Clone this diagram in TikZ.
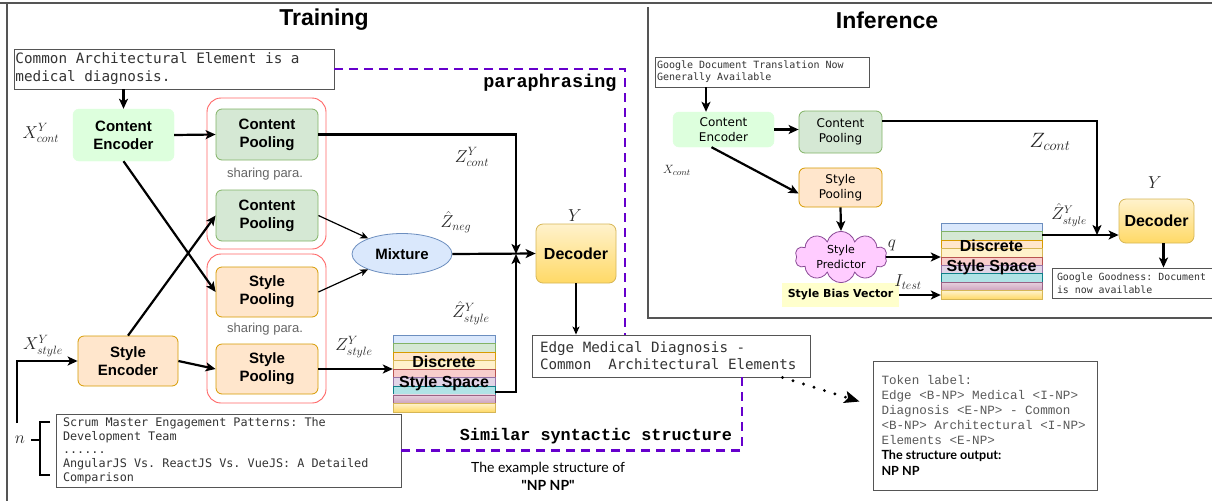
\documentclass[tikz,border=0pt]{standalone}
\usepackage{fontspec}
\setmainfont{Liberation Sans}
\newfontfamily\dvsans{DejaVu Sans}
\newfontfamily\dvmono{DejaVu Sans Mono}
\newfontfamily\cour{Liberation Mono}
\newfontfamily\hand{Lato}
\usetikzlibrary{arrows.meta,shapes.geometric,shapes.symbols,calc}

\definecolor{encgreen}{HTML}{DDFFDD}
\definecolor{poolgreen}{HTML}{D5E8D4}
\definecolor{poolgreenline}{HTML}{82B366}
\definecolor{peach}{HTML}{FFE6CC}
\definecolor{peachline}{HTML}{D79B00}
\definecolor{mixblue}{HTML}{DAE8FC}
\definecolor{mixline}{HTML}{6C8EBF}
\definecolor{groupred}{HTML}{FF6666}
\definecolor{decline}{HTML}{D6B656}
\definecolor{dectop}{HTML}{FFF2CC}
\definecolor{decbot}{HTML}{FFD966}
\definecolor{purpdash}{HTML}{6600CC}
\definecolor{cloudfill}{HTML}{FFCCFF}
\definecolor{cloudline}{HTML}{8A4A96}
\definecolor{biasfill}{HTML}{FFFFCC}
\definecolor{stripepink}{HTML}{F8CECC}
\definecolor{stripepinkline}{HTML}{B85450}
\definecolor{stripelav}{HTML}{E1D5E7}
\definecolor{stripelavline}{HTML}{9673A6}
\definecolor{stripeteal}{HTML}{B0E3E6}
\definecolor{stripetealline}{HTML}{0E8088}
\definecolor{stripemauvetop}{HTML}{E6D0DE}
\definecolor{stripemauve}{HTML}{CDA2BE}
\definecolor{stripemauveline}{HTML}{996185}
\definecolor{textgray}{HTML}{333333}
\definecolor{framegray}{HTML}{555555}

% keep full-width spaces and whole words in monospaced text blocks
\newcommand\fixsp{\spaceskip=\fontdimen2\font\xspaceskip=\fontdimen2\font\hyphenpenalty=10000\exhyphenpenalty=10000\relax}
% back to the font's own spaces (proportional lines inside a mono block)
\newcommand\propsp{\spaceskip=0pt\xspaceskip=0pt\relax}

% stack of coloured stripes: left, top, width, stripe height
\newcommand\stylestack[4]{%
  \foreach \fc/\dc [count=\k from 0] in {mixblue/mixline,poolgreen/poolgreenline,peach/peachline,dectop/decline,stripepink/stripepinkline,stripelav/stripelavline,stripeteal/stripetealline}{
    \draw[fill=\fc,draw=\dc,line width=0.6pt] (#1,{#2+\k*#4}) rectangle ++(#3,#4);}
  \draw[top color=stripemauvetop,bottom color=stripemauve,draw=stripemauveline,line width=0.6pt] (#1,{#2+7*#4}) rectangle ++(#3,#4);
  \draw[top color=dectop,bottom color=decbot,draw=decline,line width=0.6pt] (#1,{#2+8*#4}) rectangle ++(#3,#4);
}

\tikzset{
  frame/.style={draw=framegray,line width=1.1pt},
  arr/.style={line width=2.2pt,-{Stealth[length=10pt,width=9pt,inset=2.5pt]}},
  thinarr/.style={line width=1.2pt,-{Stealth[length=8pt,width=7pt,inset=2pt]}},
  box/.style={rounded corners=6pt,inner sep=0pt,align=center,font=\bfseries\fontsize{15}{18}\selectfont},
  encC/.style={box,fill=encgreen,draw=encgreen},
  poolC/.style={box,fill=poolgreen,draw=poolgreenline,line width=0.8pt},
  poolS/.style={box,fill=peach,draw=peachline,line width=0.8pt},
  group/.style={draw=groupred,rounded corners=14pt,line width=0.9pt,inner sep=0pt},
  share/.style={text=black!60,font=\fontsize{13}{15}\selectfont},
  decbox/.style={box,rounded corners=7pt,top color=dectop,bottom color=decbot,draw=decline,line width=0.8pt,font=\bfseries\fontsize{16}{19}\selectfont},
  dsslabel/.style={inner sep=0pt,align=center,font=\bfseries\fontsize{16}{20}\selectfont},
  txtbox/.style={draw=framegray,line width=0.9pt,align=left,anchor=center,text=textgray},
  mlab/.style={text=black!85,font=\fontsize{17}{20}\selectfont,inner sep=0pt},
  ibox/.style={rounded corners=6pt,inner sep=0pt,align=center,font=\dvsans\fontsize{12}{15}\selectfont},
  para/.style={draw=purpdash,line width=2.6pt,dash pattern=on 9pt off 6pt},
  dotarr/.style={line width=3.2pt,line cap=round,dash pattern=on 0pt off 11pt,-{Stealth[length=15pt,width=12pt,inset=3pt]}},
}

\begin{document}
\begin{tikzpicture}[x=1pt,y=-1pt]
\useasboundingbox (0,0) rectangle (1212,501);
\fill[white] (0,0) rectangle (1212,501);

% panel frames
\draw[frame] (0,3) -- (1212,3);
\draw[frame] (7,3) -- (7,501);
\draw[frame] (648,7) -- (648,318) -- (1212,318);

% titles
\node[font=\bfseries\fontsize{23}{27}\selectfont] (ttrain) at (324,20) {Training};
\node[font=\bfseries\fontsize{23}{27}\selectfont] (tinf) at (887,20) {Inference};

% ---------------- training ----------------
\node[txtbox,text width=317pt,inner xsep=1.5pt,inner ysep=0pt,minimum height=40pt,font=\dvmono\fontsize{14.3}{18}\selectfont] (tin) at (174,69)
  {\fixsp Common Architectural Element is a\\medical diagnosis.};

\node[encC,minimum width=101pt,minimum height=52pt] (ce) at (123.5,135) {Content\\Encoder};
\node[box,fill=peach,draw=peachline,line width=0.8pt,minimum width=100pt,minimum height=50pt] (se) at (128,361) {Style\\Encoder};

\node[group,minimum width=119pt,minimum height=151pt] (g1) at (266.5,173.5) {};
\node[group,minimum width=119pt,minimum height=149pt] (g2) at (266.5,328.5) {};

\node[poolC,minimum width=102pt,minimum height=51pt] (cp1) at (267,134.5) {Content\\Pooling};
\node[share] (sh1) at (265,174) {sharing para.};
\node[poolC,minimum width=102pt,minimum height=51pt] (cp2) at (267,215.5) {Content\\Pooling};
\node[poolS,minimum width=102pt,minimum height=50pt] (sp1) at (267,292) {Style\\Pooling};
\node[share] (sh2) at (265,329) {sharing para.};
\node[poolS,minimum width=102pt,minimum height=50pt] (sp2) at (267,369) {Style\\Pooling};

\node[ellipse,fill=mixblue,draw=mixline,line width=0.8pt,minimum width=100pt,minimum height=41pt,inner sep=0pt,font=\bfseries\fontsize{15}{18}\selectfont] (mix) at (402,254) {Mixture};

\node[decbox,minimum width=80pt,minimum height=59pt] (dec) at (576,253.5) {Decoder};
\node[mlab,fill=white,inner xsep=2pt,inner ysep=1pt] (ylab) at (575,216) {$Y$};

\stylestack{393}{335}{102}{8.55}
\node[dsslabel,minimum width=102pt,minimum height=77pt] (dss) at (444,373.5) {Discrete\\Style Space};

\node[txtbox,text width=262pt,inner xsep=8pt,inner ysep=0pt,minimum height=42pt,font=\dvmono\fontsize{14.2}{17}\selectfont] (tout) at (671,356)
  {\fixsp Edge Medical Diagnosis -\\Common~~Architectural Elements};

\node[txtbox,text width=331pt,inner xsep=7pt,inner ysep=0pt,minimum height=73pt,font=\dvmono\fontsize{11.8}{13.75}\selectfont] (ex) at (228.5,450.5)
  {\fixsp Scrum Master Engagement Patterns: The\\Development Team\\......\\AngularJS Vs. ReactJS Vs. VueJS: A Detailed\\Comparison};

\node[txtbox,text width=207pt,inner xsep=8.5pt,inner ysep=0pt,minimum height=129pt,text=black!65,font=\cour\fontsize{12.6}{15}\selectfont] (tok) at (985,425.5)
  {\fixsp Token label:\\Edge <B-NP> Medical <I-NP>\\Diagnosis <E-NP> - Common\\<B-NP> Architectural <I-NP>\\Elements <E-NP>\\{\color{black}\hand\bfseries\fontsize{12.6}{15}\selectfont\propsp The structure output:}\\[1pt]{\color{black}\hand\bfseries\fontsize{12.6}{15}\selectfont\propsp NP NP}};

% labels
\node[mlab] (lxc) at (41,133) {$X^{Y}_{cont}$};
\node[mlab] (lxs) at (43,346) {$X^{Y}_{style}$};
\node[mlab] (lzc) at (472,157) {$Z^{Y}_{cont}$};
\node[mlab] (lzn) at (456,222) {$\hat{Z}_{neg}$};
\node[mlab] (lzs) at (354,347) {$Z^{Y}_{style}$};
\node[mlab] (lzh) at (471,313) {$\hat{Z}^{Y}_{style}$};
\node[mlab] (ln) at (20,440) {$n$};

\node[anchor=east,font=\cour\bfseries\fontsize{18.5}{22}\selectfont] (lpara) at (620,83) {paraphrasing};
\node[font=\cour\bfseries\fontsize{16.8}{20}\selectfont] (lsim) at (596,436) {Similar syntactic structure};
\node[align=center,font=\hand\fontsize{14}{18}\selectfont] (lex) at (548,476) {The example structure of\\\textbf{"NP NP"}};

% bracket grouping the n examples
\draw[line width=1.2pt] (50,422) -- (40,422) -- (40,475) -- (50,475);
\draw[line width=1.2pt] (31,440) -- (40,440);

% connectors
\draw[arr] (tin.south -| ce.north) -- (ce.north);
\draw[arr] (ce.east) -- (cp1.west);
\draw[arr] (ce.south) -- (sp1.west);
\draw[arr] (se.north) -- (cp2.west);
\draw[arr] (se.east) -- (sp2.west);
\coordinate (nin) at (17,423);
\draw[arr] (nin) |- (se.west);
\draw[thinarr] (cp2.east) -- (mix);
\draw[thinarr] (sp1.east) -- (mix);
\draw[arr] (mix.east) -- (dec.west);
\coordinate (jn) at (516,254);
\draw[arr] (cp1.east) -| (jn);
\draw[arr] ($(dss.south east)+(0,-20)$) -| (jn);
\draw[arr] (sp2.east) -- (sp2.east -| dss.west);
\draw[thinarr] (dec.south) -- (dec.south |- tout.north);

\coordinate (pbend) at (625,69);
\draw[para] (tin.east) -- (pbend) -- (pbend |- tout.north);
\coordinate (sbend) at (742,450.5);
\draw[para] (sbend |- tout.south) -- (sbend) -- (ex.east);

\draw[dotarr] ($(tout.south east)+(-28,0)$) -- ($(tok.north west)+(-13,41)$);

% ---------------- inference ----------------
\node[txtbox,text width=210pt,inner xsep=2pt,inner ysep=0pt,minimum height=30pt,font=\dvmono\fontsize{10}{12}\selectfont] (iin) at (762,72)
  {\fixsp Google Document Translation Now\\Generally Available};

\node[ibox,fill=encgreen,draw=encgreen,minimum width=101pt,minimum height=35pt] (ice) at (723.5,129.5) {Content\\Encoder};
\node[ibox,fill=poolgreen,draw=poolgreenline,line width=0.8pt,minimum width=83pt,minimum height=42pt] (icp) at (840.5,132) {Content\\Pooling};
\node[ibox,fill=peach,draw=peachline,line width=0.8pt,minimum width=83pt,minimum height=39pt] (isp) at (840.5,187.5) {Style\\Pooling};
\node[cloud,cloud puffs=10,aspect=1.9,fill=cloudfill,draw=cloudline,line width=0.8pt,minimum width=92pt,minimum height=49pt,inner sep=0pt,align=center,font=\dvsans\fontsize{11}{15}\selectfont] (ipred) at (841,257) {Style\\Predictor};
\node[fill=biasfill,minimum width=117pt,minimum height=24pt,inner sep=0pt,font=\dvsans\bfseries\fontsize{11}{13}\selectfont] (isbv) at (840.5,295) {Style Bias Vector};

\stylestack{941}{223}{101}{8.45}
\node[dsslabel,minimum width=101pt,minimum height=76pt] (idss) at (991.5,257) {Discrete\\Style Space};

\node[decbox,minimum width=75pt,minimum height=44pt] (idec) at (1156.5,221) {Decoder};

\node[txtbox,text width=154pt,inner xsep=5pt,inner ysep=0pt,minimum height=30pt,font=\dvmono\fontsize{9.9}{13}\selectfont] (iout) at (1134,283)
  {\fixsp Google Goodness: Document\\is now available};

\node[mlab,font=\fontsize{13}{15}\selectfont] (ilx) at (677,170) {$X_{cont}$};
\node[mlab,font=\fontsize{20}{22}\selectfont] (ilz) at (1050,142) {$Z_{cont}$};
\node[mlab,font=\fontsize{18}{20}\selectfont] (ilq) at (892,245) {$q$};
\node[mlab,font=\fontsize{18}{20}\selectfont] (ilt) at (908,282) {$I_{test}$};
\node[mlab,font=\fontsize{16}{18}\selectfont] (ilzh) at (1069,215) {$\hat{Z}^{Y}_{style}$};
\node[mlab,font=\fontsize{18}{20}\selectfont] (ily) at (1155,183) {$Y$};

\coordinate (icein) at ($(ice.north)+(-17.5,0)$);
\draw[arr] (icein |- iin.south) -- (icein);
\draw[arr] (ice.east) -- (ice.east -| icp.west);
\draw[arr] ($(ice.south)+(-12,0)$) -- ($(isp.west)+(0,6)$);
\coordinate (ijn) at (1097,235);
\draw[arr] ($(icp.north east)+(0,10)$) -| (ijn);
\draw[arr] (isp.south) -- (ipred.north);
\draw[arr] (ipred.east) -- (ipred.east -| idss.west);
\draw[arr] (isbv.east) -- (isbv.east -| idss.west);
\draw[arr] (ijn -| idss.east) -- (ijn -| idec.west);
\coordinate (idecout) at ($(idec.south)+(7,0)$);
\draw[arr] (idecout) -- (idecout |- iout.north);
\end{tikzpicture}
\end{document}
